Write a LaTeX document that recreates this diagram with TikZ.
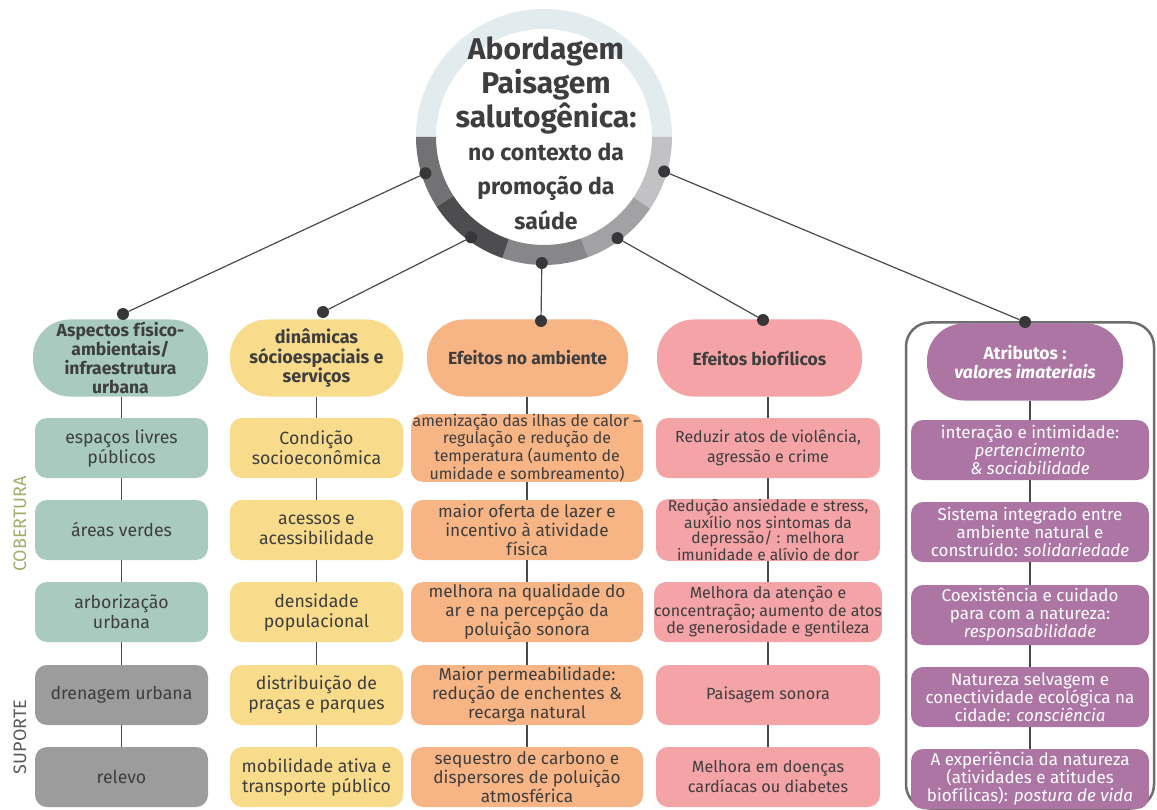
\documentclass[tikz,border=0pt]{standalone}
\usepackage{fontspec}
\setmainfont{Fira Sans}
\usetikzlibrary{calc}

\definecolor{txt}{HTML}{3E3E3E}
\definecolor{lnk}{HTML}{4A4A4A}
\definecolor{dotc}{HTML}{37373A}
\definecolor{cgreen}{HTML}{A9CBBF}
\definecolor{cyellow}{HTML}{F8DC8C}
\definecolor{corange}{HTML}{F7B586}
\definecolor{cpink}{HTML}{F4A3A7}
\definecolor{cpurple}{HTML}{AC75A4}
\definecolor{cgray}{HTML}{9C9C9C}
\definecolor{cframe}{HTML}{6E6E6E}
\definecolor{colive}{HTML}{A5AC6C}
\definecolor{ringtop}{HTML}{E2EBEE}
\definecolor{ringa}{HTML}{C2C2C4}
\definecolor{ringb}{HTML}{A2A2A4}
\definecolor{ringc}{HTML}{87878A}
\definecolor{ringd}{HTML}{4D4D50}
\definecolor{ringe}{HTML}{727275}

\newcommand{\hdrfont}{\bfseries\fontsize{17.5}{19}\selectfont}
\newcommand{\bxfont}{\fontsize{17.7}{20}\selectfont}
\newcommand{\bxmid}{\fontsize{17.2}{19}\selectfont}
\newcommand{\bxpink}{\fontsize{16.2}{19}\selectfont}
\newcommand{\pfont}{\fontsize{17}{18}\selectfont}

% one sector of the ring round the title
\newcommand{\ringseg}[3]{%
  \fill[#3] ($(C)+(#1:128)$) arc[start angle=#1,end angle=#2,radius=128]
    -- ($(C)+(#2:108)$) arc[start angle=#2,end angle=#1,radius=108] -- cycle;}

\tikzset{
  hdr/.style={rounded corners=37pt, minimum height=77pt, inner sep=0pt,
              align=center, font=\hdrfont, text=txt},
  bx/.style={rounded corners=12pt, minimum height=60pt, inner sep=0pt,
             align=center, font=\bxfont, text=txt},
  obx/.style={bx, fill=corange, minimum width=232pt, font=\bxmid},
  kbx/.style={bx, fill=cpink, minimum width=224pt, font=\bxpink},
  pbx/.style={bx, fill=cpurple, text=white, font=\pfont, minimum width=238pt},
  link/.style={draw=lnk, line width=1.2pt},
  dot/.style={circle, fill=dotc, minimum size=12pt, inner sep=0pt},
}

\begin{document}
\begin{tikzpicture}[x=1pt,y=-1pt]
\path[use as bounding box, fill=white] (0,0) rectangle (1157,810);

% ---- central ring and title
\coordinate (C) at (544,137);
\fill[white] (C) circle[radius=108];
\ringseg{180}{360}{ringtop}
\ringseg{0}{34}{ringa}
\ringseg{34}{70}{ringb}
\ringseg{70}{109}{ringc}
\ringseg{109}{147}{ringd}
\ringseg{147}{180}{ringe}

\node[align=center, inner sep=0pt, text=txt,
      font=\bfseries\fontsize{30}{34}\selectfont] (title) at (546,85)
  {Abordagem\\Paisagem\\salutogênica:};
\node[align=center, inner sep=0pt, text=txt,
      font=\bfseries\fontsize{23}{34.5}\selectfont] (sub) at (546,186)
  {no contexto da\\promoção da\\saúde};

% ---- side labels
\node[rotate=90, text=colive, font=\fontsize{18}{18}\selectfont] (cob) at (20,524) {COBERTURA};
\node[rotate=90, text=txt!85, font=\fontsize{18}{18}\selectfont] (sup) at (20,737) {SUPORTE};

% ---- frame of the last column
\node[draw=cframe, line width=2.5pt, rounded corners=24pt,
      minimum width=248pt, minimum height=486pt, inner sep=0pt] (frm) at (1030,565.5) {};

% ---- column 1
\node[hdr, fill=cgreen, minimum width=175pt] (h1) at (120.5,358)
  {Aspectos físico-\\ambientais/\\infraestrutura\\urbana};
\node[bx, fill=cgreen, minimum width=173pt] (b11) at (121.5,448) {espaços livres\\públicos};
\node[bx, fill=cgreen, minimum width=173pt] (b12) at (121.5,530) {áreas verdes};
\node[bx, fill=cgreen, minimum width=173pt] (b13) at (121.5,612) {arborização\\urbana};
\node[bx, fill=cgray, minimum width=173pt] (b14) at (121.5,695) {drenagem urbana};
\node[bx, fill=cgray, minimum width=173pt] (b15) at (121.5,777) {relevo};

% ---- column 2
\node[hdr, fill=cyellow, minimum width=173pt, font=\bfseries\fontsize{18}{19.5}\selectfont] (h2) at (316.5,358)
  {dinâmicas\\sócioespaciais e\\serviços};
\node[bx, fill=cyellow, minimum width=173pt] (b21) at (316.5,448) {Condição\\socioeconômica};
\node[bx, fill=cyellow, minimum width=173pt] (b22) at (316.5,530) {acessos e\\acessibilidade};
\node[bx, fill=cyellow, minimum width=173pt] (b23) at (316.5,612) {densidade\\populacional};
\node[bx, fill=cyellow, minimum width=173pt] (b24) at (316.5,695) {distribuição de\\praças e parques};
\node[bx, fill=cyellow, minimum width=173pt] (b25) at (316.5,777) {mobilidade ativa e\\transporte público};

% ---- column 3
\node[hdr, fill=corange, minimum width=201pt] (h3) at (527.5,358) {Efeitos no ambiente};
\node[obx, font=\fontsize{15.9}{15.5}\selectfont] (b31) at (527,448)
  {amenização das ilhas de calor –\\regulação e redução de\\temperatura (aumento de\\umidade e sombreamento)};
\node[obx] (b32) at (527,530) {maior oferta de lazer e\\incentivo à atividade\\física};
\node[obx] (b33) at (527,612) {melhora na qualidade do\\ar e na percepção da\\poluição sonora};
\node[obx] (b34) at (527,695) {Maior permeabilidade:\\redução de enchentes \&\\recarga natural};
\node[obx] (b35) at (527,777) {sequestro de carbono e\\dispersores de poluição\\atmosférica};

% ---- column 4
\node[hdr, fill=cpink, minimum width=205pt] (h4) at (759.5,358) {Efeitos biofílicos};
\node[kbx, font=\fontsize{16}{20}\selectfont] (b41) at (768,448) {Reduzir atos de violência,\\agressão e crime};
\node[kbx, font=\fontsize{15.6}{15.2}\selectfont] (b42) at (768,530)
  {Redução ansiedade e stress,\\auxílio nos sintomas da\\depressão/ : melhora\\imunidade e alívio de dor};
\node[kbx, font=\fontsize{16}{17.5}\selectfont] (b43) at (768,612)
  {Melhora da atenção e\\concentração; aumento de atos\\de generosidade e gentileza};
\node[kbx] (b44) at (768,695) {Paisagem sonora};
\node[kbx, font=\fontsize{16.2}{20}\selectfont] (b45) at (768,777) {Melhora em doenças\\cardíacas ou diabetes};

% ---- column 5
\node[hdr, fill=cpurple, text=white, minimum width=196pt] (h5) at (1025,362)
  {Atributos :\\\textit{valores imateriais}};
\node[pbx] (b51) at (1030,450) {interação e intimidade:\\\textit{pertencimento}\\\textit{\& sociabilidade}};
\node[pbx] (b52) at (1030,532) {Sistema integrado entre\\ambiente natural e\\construído: \textit{solidariedade}};
\node[pbx] (b53) at (1030,615) {Coexistência e cuidado\\para com a natureza:\\\textit{responsabilidade}};
\node[pbx] (b54) at (1030,697) {Natureza selvagem e\\conectividade ecológica na\\cidade: \textit{consciência}};
\node[pbx] (b55) at (1030,779) {A experiência da natureza\\(atividades e atitudes\\biofílicas): \textit{postura de vida}};

% ---- vertical links inside the columns
\foreach \c in {1,2,3,4,5}{
  \draw[link] (h\c.south -| b\c1.north) -- (b\c1.north);
  \draw[link] (b\c1) -- (b\c2);
  \draw[link] (b\c2) -- (b\c3);
  \draw[link] (b\c3) -- (b\c4);
  \draw[link] (b\c4) -- (b\c5);
}

% ---- dots on the ring and on the headers
\node[dot] (r1) at ($(C)+(163:124)$) {};
\node[dot] (r2) at ($(C)+(126:124)$) {};
\node[dot] (r3) at ($(C)+(91:126)$) {};
\node[dot] (r4) at ($(C)+(54:125)$) {};
\node[dot] (r5) at ($(C)+(16:125)$) {};
\node[dot] (t1) at (123,314) {};
\node[dot] (t2) at (323,312) {};
\node[dot] (t3) at (541,321) {};
\node[dot] (t4) at (763,320) {};
\node[dot] (t5) at (1025,322) {};

\draw[link] (r1) -- (t1);
\draw[link] (r2) -- (t2);
\draw[link] (r3) -- (t3);
\draw[link] (r4) -- (t4);
\draw[link] (r5) -- (t5);
\end{tikzpicture}
\end{document}
